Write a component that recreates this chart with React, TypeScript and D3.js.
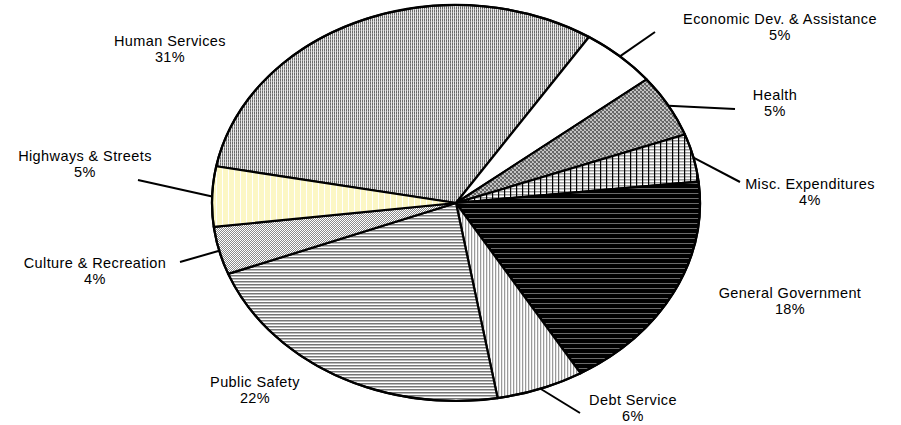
import React from 'react';
import * as d3 from 'd3';

const categories = [
  'Human Services',
  'Economic Dev. & Assistance',
  'Health',
  'Misc. Expenditures',
  'General Government',
  'Debt Service',
  'Public Safety',
  'Culture & Recreation',
  'Highways & Streets',
];
const values = [31.2, 5.1, 5.1, 3.9, 18.2, 5.8, 21.9, 3.9, 4.9];
const percentLabels = ['31%', '5%', '5%', '4%', '18%', '6%', '22%', '4%', '5%'];

// layout (not data)
const W = 901, H = 425;
const CX = 456, CY = 203, RX = 244, RY = 198;
const START_DEG = -79.3;
const patternIds = ['hs', 'econ', 'health', 'misc', 'gen', 'debt', 'ps', 'cult', 'hwy'];
const labelPos: [number, number][] = [
  [170, 46], [780, 24], [775, 100], [810, 189], [790, 298], [633, 405], [255, 387], [95, 268], [85, 161],
];
const leaderEnds: ([number, number] | null)[] = [
  null, [655, 32], [735, 109], [740, 182], null, [580, 413], null, [180, 262], [138, 180],
];

export default function App() {
  const sx = RX / RY;
  const s = (START_DEG * Math.PI) / 180;
  const pie = d3.pie<number>().sort(null).startAngle(s).endAngle(s + 2 * Math.PI);
  const arcs = pie(values);
  const arc = d3.arc<d3.PieArcDatum<number>>().innerRadius(0).outerRadius(RY);
  const pt = `scale(${1 / sx},1)`;
  const font = "'Liberation Sans', Arial, sans-serif";

  return (
    <svg width={W} height={H} style={{ position: 'absolute', left: 0, top: 0, background: '#fff' }}>
      <defs>
        <pattern id="hs" width={2} height={3} patternUnits="userSpaceOnUse" patternTransform={pt}>
          <rect width={2} height={3} fill="#e8e8e8" />
          <rect x={0} width={1} height={3} fill="#6a6a6a" />
          <rect x={0} y={1} width={1} height={1} fill="#999" />
        </pattern>
        <pattern id="econ" width={4} height={4} patternUnits="userSpaceOnUse" patternTransform={pt}>
          <rect width={4} height={4} fill="#fff" />
        </pattern>
        <pattern id="health" width={4} height={4} patternUnits="userSpaceOnUse" patternTransform={pt}>
          <rect width={4} height={4} fill="#c4c4c4" />
          <rect x={0} y={0} width={2} height={2} fill="#666" />
          <rect x={2} y={2} width={2} height={2} fill="#666" />
          <rect x={1} y={2} width={1} height={1} fill="#8a8a8a" />
        </pattern>
        <pattern id="misc" width={6} height={3} patternUnits="userSpaceOnUse" patternTransform={pt}>
          <rect width={6} height={3} fill="#fff" />
          <rect y={0} width={6} height={1.5} fill="#999" />
          <rect x={0} width={1.2} height={3} fill="#000" />
        </pattern>
        <pattern id="gen" width={5} height={5} patternUnits="userSpaceOnUse" patternTransform={pt}>
          <rect width={5} height={5} fill="#000" />
          <rect y={0} width={5} height={1} fill="#6a6a6a" />
        </pattern>
        <pattern id="debt" width={3} height={3} patternUnits="userSpaceOnUse" patternTransform={pt}>
          <rect width={3} height={3} fill="#fff" />
          <rect x={0} width={1} height={3} fill="#9a9a9a" />
          <rect x={1} width={1} height={3} fill="#e6e6e6" />
        </pattern>
        <pattern id="ps" width={3} height={3} patternUnits="userSpaceOnUse" patternTransform={pt}>
          <rect width={3} height={3} fill="#fff" />
          <rect y={0} width={3} height={1} fill="#777" />
          <rect y={1} width={3} height={1} fill="#bbb" />
        </pattern>
        <pattern id="cult" width={2} height={2} patternUnits="userSpaceOnUse" patternTransform={pt}>
          <rect width={2} height={2} fill="#fff" />
          <rect x={0} y={0} width={1} height={1} fill="#8a8a8a" />
          <rect x={1} y={1} width={1} height={1} fill="#8a8a8a" />
        </pattern>
        <pattern id="hwy" width={6} height={6} patternUnits="userSpaceOnUse" patternTransform={pt}>
          <rect width={6} height={6} fill="#fcf7c5" />
          <rect x={0} width={1} height={6} fill="#fff" />
        </pattern>
      </defs>
      <g transform={`translate(${CX},${CY}) scale(${sx},1)`}>
        {arcs.map((a, i) => (
          <path
            key={categories[i]}
            d={arc(a) || ''}
            fill={`url(#${patternIds[i]})`}
            stroke="#000"
            strokeWidth={2.2}
            strokeLinejoin="round"
            vectorEffect="non-scaling-stroke"
          />
        ))}
        <ellipse cx={0} cy={0} rx={RY} ry={RY} fill="none" stroke="#000" strokeWidth={2.2} vectorEffect="non-scaling-stroke" />
      </g>
      {arcs.map((a, i) => {
        const end = leaderEnds[i];
        if (!end) return null;
        const m = (a.startAngle + a.endAngle) / 2;
        const x0 = CX + RX * Math.sin(m);
        const y0 = CY - RY * Math.cos(m);
        return <line key={'l' + i} x1={x0} y1={y0} x2={end[0]} y2={end[1]} stroke="#000" strokeWidth={2} />;
      })}
      {categories.map((c, i) => (
        <text key={'t' + i} x={labelPos[i][0]} y={labelPos[i][1]} textAnchor="middle" fontFamily={font} fontSize={14.5} letterSpacing={0.4} fill="#000">
          <tspan x={labelPos[i][0]}>{c}</tspan>
          <tspan x={labelPos[i][0]} dy={16}>{percentLabels[i]}</tspan>
        </text>
      ))}
    </svg>
  );
}
